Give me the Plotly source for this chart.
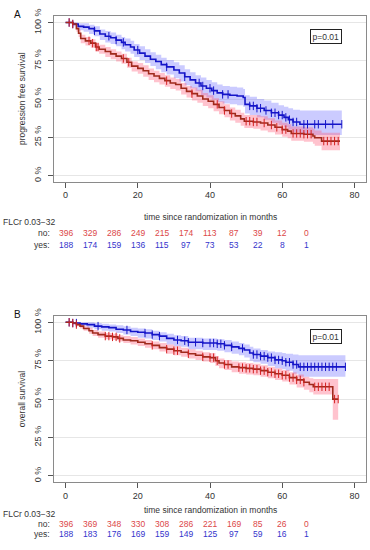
import numpy as np
import plotly.graph_objects as go

W, H = 370, 550
FONT = "Liberation Sans, Arial, Helvetica, sans-serif"

# ---------------- Panel A: progression free survival ----------------
pfs_no_t = [0, 2, 3, 3.6, 4.2, 5.5, 7, 8.3, 9.3, 11, 12.5, 14, 15.5, 17, 18.3, 20, 21.5, 23, 24.5, 26,
            27.5, 29, 30.5, 32, 33.5, 35, 36.5, 38, 39.5, 41, 42.5, 44, 45.5, 47, 48.5, 49.5, 52, 54, 56, 58,
            60, 61.5, 62.5, 66, 68.5, 69, 70.9]
pfs_no_s = [100, 99, 96, 93, 89.5, 88, 86.5, 84, 82.5, 81, 79.5, 78, 76.5, 74, 71.5, 70, 68.5, 66.5, 65, 63.5,
            62, 60.5, 59.5, 57, 55, 53.5, 52, 50, 48.5, 46.5, 44.5, 42.5, 40.5, 39, 37, 35.5, 35, 34.3, 33, 31.5,
            30, 29, 27.5, 27, 25.8, 24.7, 22.5]
pfs_no_hi = [100, 100, 98, 95.5, 92, 90.5, 89, 86.5, 85.5, 84, 82.5, 81, 79.5, 77, 74.5, 73.5, 72, 70, 68.5, 67,
             65.5, 64, 63, 60.5, 58.5, 57.5, 56, 54, 52.5, 50.5, 48.5, 46.5, 44.5, 43, 41, 39.5, 39.5, 38.8, 37.5, 36,
             34.5, 33.5, 32, 31.5, 30.5, 29.5, 28]
pfs_no_lo = [100, 98, 94, 90.5, 86.5, 85, 83.5, 81, 79.5, 77.5, 76, 74.5, 73, 70.5, 68, 66.5, 64.5, 62.5, 61, 59.5,
             58, 56.5, 55.5, 53, 51, 49, 47.5, 45.5, 44, 42, 40, 38, 36, 34.5, 32.5, 31, 30.5, 29.5, 28.3, 26.8,
             25.3, 24.3, 22.8, 22, 20.8, 19.5, 16.5]
pfs_no_end = 76
pfs_no_cens = [1, 2, 6.5, 7.5, 8.5, 9, 16, 17.5, 28, 35, 42, 44, 46, 50, 51, 52, 53, 55, 57, 58.5, 60, 61,
               63, 64, 65, 66, 67, 68, 71.5, 72.5, 73.5, 74.5, 75.5]

pfs_yes_t = [0, 2, 3.5, 5, 6.5, 8, 9.5, 11, 12.5, 14, 15.5, 16.5, 18, 19, 20.5, 22, 23.5, 25, 26.5, 28,
             30, 31.5, 33, 34.5, 36, 37.5, 39, 40.5, 42, 43.5, 45.5, 47.5, 49.2, 49.7, 51, 53, 55, 57, 59, 60.5,
             61.7, 63, 64.9]
pfs_yes_s = [100, 99, 97.5, 97, 96, 94.5, 92.5, 91, 90, 88.5, 87, 85.5, 84, 82, 80, 78, 76, 74.5, 72.5, 71,
             69, 67, 64.5, 62.5, 60.5, 58.5, 57, 55.5, 54, 53, 52.5, 52, 51, 46.5, 45.5, 44, 42.5, 41, 39.5, 38,
             36.5, 35, 33.5]
pfs_yes_hi = [100, 100, 99.5, 99.5, 98.5, 97.5, 95.5, 94.5, 93.5, 92, 90.5, 89.5, 88, 86, 84.5, 82.5, 80.5, 79, 77, 75.5,
              74, 72, 69.5, 67.5, 65.5, 64, 62.5, 61, 59.5, 58.5, 58, 57.5, 56.5, 52.5, 51.5, 50, 49, 47.5, 46, 45,
              44, 43, 42.5]
pfs_yes_lo = [100, 97.5, 95, 94, 92.5, 91, 88.5, 87, 86, 84.5, 82.5, 81, 79.5, 77.5, 75.5, 73.5, 71.5, 69.5, 67.5, 66,
              63.5, 61.5, 59, 57, 55, 52.5, 51, 49.5, 48, 47, 46.5, 46, 45, 40.5, 39.5, 38, 36.5, 34.5, 33, 31.5,
              30, 28.5, 26.5]
pfs_yes_end = 76.5
pfs_yes_cens = [1, 2, 8, 12, 14, 16, 20, 28, 33, 37, 38, 40, 41, 43.5, 45, 51, 52, 53, 54, 55.5, 57, 58, 59,
                60, 61, 62, 63, 64, 66, 67, 69, 70, 72, 74, 76.5]

# ---------------- Panel B: overall survival ----------------
os_no_t = [0, 2, 3, 4, 5, 6.5, 7.5, 9, 11, 13, 14.5, 16, 18, 20, 22, 24, 26, 28, 30, 32,
           34, 36, 38, 40, 41.5, 42.5, 44, 46, 48, 50, 52, 54, 56, 58, 60, 62, 64, 66, 67.5, 68.6, 74]
os_no_s = [100, 99.5, 98.5, 97.5, 96, 94.5, 93, 92, 91, 90.5, 89.5, 88.5, 88, 87, 86, 85, 83.5, 82.5, 81.5, 80.5,
           79.5, 78.5, 77.5, 77, 75, 73.5, 72.5, 71, 70.5, 70, 69.5, 68.5, 67.5, 66.5, 65.5, 64, 62.5, 61, 59.5, 58, 50]
os_no_hi = [100, 100, 99.5, 99, 97.5, 96.5, 95, 94, 93, 92.5, 91.5, 91, 90.5, 89.5, 88.5, 87.5, 86.5, 85.5, 84.5, 83.5,
            82.5, 81.5, 80.5, 80, 78, 76.5, 75.5, 74.5, 74, 73.5, 73, 72, 71, 70, 69, 67.5, 66, 64.5, 63.5, 63, 63]
os_no_lo = [100, 98.5, 97.5, 96, 94.5, 92.5, 91, 90, 89, 88.5, 87.5, 86.5, 85.5, 84.5, 83.5, 82.5, 81, 79.5, 78.5, 77.5,
            76.5, 75.5, 74.5, 73.5, 71.5, 70, 69, 67.5, 66.5, 66, 65.5, 64.5, 63.5, 62.5, 61.5, 59.5, 57.5, 56, 54.5, 53, 36.5]
os_no_end = 75.5
os_no_cens = [1, 2, 3, 11, 12, 13, 14, 15, 24, 28, 30, 31, 34, 38, 40, 41, 42, 44, 45, 48, 49, 50, 51, 52, 53,
              54, 55, 56, 57, 58, 59, 60, 61, 62, 63, 64, 65, 66, 69, 70, 71, 72, 73, 74.5, 75.5]

os_yes_t = [0, 2, 4, 6, 8, 10, 12, 14, 16, 18, 20, 22, 24, 26, 28, 30, 32, 34, 38, 42,
            44, 46, 48, 49.5, 51, 52, 54, 56, 58, 60, 61, 63, 64.5]
os_yes_s = [100, 99.5, 99, 98.5, 97.5, 97, 96.5, 95.5, 95, 94, 93.5, 93, 92, 91, 89.5, 88.5, 88, 87, 86.5, 86,
            85, 84, 83, 82, 80, 79, 78, 77, 75.5, 75, 74, 72.5, 71]
os_yes_hi = [100, 100, 100, 100, 99.5, 99, 98.5, 98, 97.5, 96.5, 96, 95.5, 94.5, 93.5, 92.5, 91.5, 91, 90, 89.5, 89,
             88.5, 87.5, 86.5, 85.5, 84, 83, 82, 81, 80.5, 80, 79.5, 79, 78.5]
os_yes_lo = [100, 98.5, 97.5, 96.5, 95.5, 94.5, 94, 93, 92, 91, 90, 89.5, 88.5, 87.5, 85.5, 84.5, 84, 82.5, 82, 81.5,
             80.5, 79.5, 78.5, 77, 75, 74, 73, 71.5, 70, 69.5, 68.5, 66.5, 64.5]
os_yes_end = 77.5
os_yes_cens = [1, 2, 3, 9, 17, 22, 24, 26, 31, 33, 34, 36, 38, 40, 41, 42, 43, 44, 46, 49, 52, 53, 54, 55, 56,
               57, 58, 59, 60, 61, 62, 63, 64, 65, 66, 67, 68, 69, 70, 71, 72, 73, 74, 75, 77.5]

# ---------------- Numbers at risk ----------------
risk_times = [0, 6.67, 13.33, 20, 26.67, 33.33, 40, 46.67, 53.33, 60, 66.67]
pfs_risk_no = [396, 329, 286, 249, 215, 174, 113, 87, 39, 12, 0]
pfs_risk_yes = [188, 174, 159, 136, 115, 97, 73, 53, 22, 8, 1]
os_risk_no = [396, 369, 348, 330, 308, 286, 221, 169, 85, 26, 0]
os_risk_yes = [188, 183, 176, 169, 159, 149, 125, 97, 59, 16, 1]

x_ticks = [0, 20, 40, 60, 80]
y_ticks = [0, 25, 50, 75, 100]
y_ticktext = ["0 %", "25 %", "50 %", "75 %", "100 %"]

BLUE_LINE = "#1414c8"
RED_LINE = "#a02a1c"
RED_MARK = "#d42020"
BLUE_BAND = "rgba(110,110,255,0.36)"
RED_BAND = "rgba(255,90,120,0.36)"
RED_TXT = "#dc4848"
BLUE_TXT = "#3434cc"
TXT = "#333333"


def px_x(p):
    return p / W


def px_y(p):
    return 1 - p / H


fig = go.Figure()


def add_band(t, lo, hi, end, band_col, xa, ya):
    x = list(t) + [end]
    fig.add_trace(go.Scatter(x=x, y=list(lo) + [lo[-1]], mode="lines",
                             line=dict(width=0, shape="hv"), hoverinfo="skip",
                             showlegend=False, xaxis=xa, yaxis=ya))
    fig.add_trace(go.Scatter(x=x, y=list(hi) + [hi[-1]], mode="lines",
                             line=dict(width=0, shape="hv"), fill="tonexty",
                             fillcolor=band_col, hoverinfo="skip",
                             showlegend=False, xaxis=xa, yaxis=ya))


def add_line(t, s, end, cens, line_col, mark_col, xa, ya):
    x = list(t) + [end]
    fig.add_trace(go.Scatter(x=x, y=list(s) + [s[-1]], mode="lines",
                             line=dict(width=1.6, shape="hv", color=line_col),
                             showlegend=False, xaxis=xa, yaxis=ya))
    ta = np.array(t)
    idx = np.searchsorted(ta, np.array(cens), side="right") - 1
    cy = [s[i] for i in idx]
    fig.add_trace(go.Scatter(x=cens, y=cy, mode="markers",
                             marker=dict(symbol="line-ns", size=6,
                                         line=dict(width=1.0, color=mark_col)),
                             showlegend=False, xaxis=xa, yaxis=ya))


# Panel A
add_band(pfs_yes_t, pfs_yes_lo, pfs_yes_hi, pfs_yes_end, BLUE_BAND, "x", "y")
add_band(pfs_no_t, pfs_no_lo, pfs_no_hi, pfs_no_end, RED_BAND, "x", "y")
add_line(pfs_yes_t, pfs_yes_s, pfs_yes_end, pfs_yes_cens, BLUE_LINE, BLUE_LINE, "x", "y")
add_line(pfs_no_t, pfs_no_s, pfs_no_end, pfs_no_cens, RED_LINE, RED_MARK, "x", "y")

# Panel B
add_band(os_yes_t, os_yes_lo, os_yes_hi, os_yes_end, BLUE_BAND, "x2", "y2")
add_band(os_no_t, os_no_lo, os_no_hi, os_no_end, RED_BAND, "x2", "y2")
add_line(os_yes_t, os_yes_s, os_yes_end, os_yes_cens, BLUE_LINE, BLUE_LINE, "x2", "y2")
add_line(os_no_t, os_no_s, os_no_end, os_no_cens, RED_LINE, RED_MARK, "x2", "y2")

xdom = [px_x(54), px_x(366)]
domA = [px_y(176.2), px_y(8.5)]
domB = [px_y(481.0), px_y(312.7)]

xax = dict(range=[-3.2, 83.2], tickvals=x_ticks, showline=True, mirror=True,
           linecolor="#8a8a8a", linewidth=1, ticks="outside", ticklen=5,
           tickcolor="#555555", tickfont=dict(size=9, color=TXT, family=FONT),
           showgrid=False, zeroline=False, fixedrange=True, domain=xdom)
yax = dict(range=[-4, 104], tickvals=y_ticks, ticktext=y_ticktext, tickangle=-90,
           showline=True, mirror=True, linecolor="#8a8a8a", linewidth=1,
           ticks="outside", ticklen=5, tickcolor="#555555",
           tickfont=dict(size=9, color=TXT, family=FONT),
           showgrid=True, gridcolor="#e6e6e6", gridwidth=1, zeroline=False,
           fixedrange=True, ticklabelstandoff=3)

fig.update_layout(
    width=W, height=H, margin=dict(l=0, r=0, t=0, b=0),
    paper_bgcolor="white", plot_bgcolor="white",
    font=dict(family=FONT, size=9, color=TXT),
    showlegend=False, hovermode=False,
    xaxis=dict(xax, anchor="y"),
    yaxis=dict(yax, domain=domA, anchor="x"),
    xaxis2=dict(xax, anchor="y2"),
    yaxis2=dict(yax, domain=domB, anchor="x2"),
)

ann = []


def txt(x, y, s, size=8.5, color=TXT, xanchor="center", xref="paper", angle=0):
    ann.append(dict(x=x, y=y, xref=xref, yref="paper", text=s, showarrow=False,
                    xanchor=xanchor, yanchor="middle", textangle=angle,
                    font=dict(size=size, color=color, family=FONT)))


def panel_text(dy, letter, ytitle, ycenter, risk_no, risk_yes, xa, rows):
    title_y, flc_y, no_y, yes_y = rows
    txt(px_x(17), px_y(7 + dy), letter, size=10, color="#111111")
    txt(px_x(22), px_y(ycenter), ytitle, angle=-90)
    txt(px_x(210), px_y(title_y), "time since randomization in months")
    txt(px_x(1), px_y(flc_y), "FLCr 0.03\u221232", xanchor="left")
    txt(px_x(52), px_y(no_y), "no:", xanchor="right")
    txt(px_x(52), px_y(yes_y), "yes:", xanchor="right")
    for tt, n in zip(risk_times, risk_no):
        txt(tt, px_y(no_y), str(n), color=RED_TXT, xref=xa)
    for tt, n in zip(risk_times, risk_yes):
        txt(tt, px_y(yes_y), str(n), color=BLUE_TXT, xref=xa)
    ann.append(dict(x=px_x(326), y=px_y(28.5 + dy), xref="paper", yref="paper",
                    text="p=0.01", showarrow=False, xanchor="center", yanchor="middle",
                    bordercolor="#222222", borderwidth=1, borderpad=1.5, bgcolor="white",
                    font=dict(size=8.5, color=TXT, family=FONT)))


panel_text(0, "A", "progression free survival", 92.4, pfs_risk_no, pfs_risk_yes, "x",
           (212.3, 217.3, 228.3, 240))
panel_text(304.5, "B", "overall survival", 396.9, os_risk_no, os_risk_yes, "x2",
           (509.3, 513.3, 523.3, 534))

fig.update_layout(annotations=ann)
fig.write_html("out.html", config={"displayModeBar": False},
               post_script="document.body.style.margin='0';document.body.style.overflow='hidden';")
